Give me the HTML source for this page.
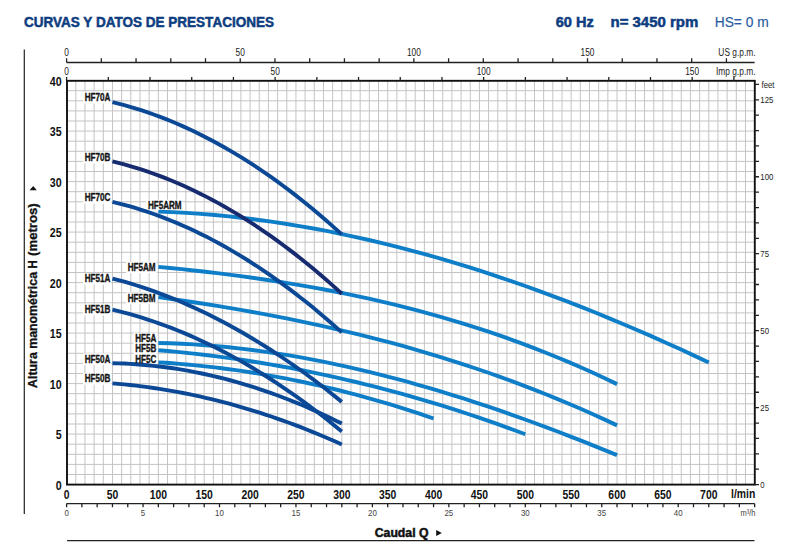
<!DOCTYPE html><html><head><meta charset="utf-8"><style>html,body{margin:0;padding:0;background:#fff;}svg{display:block;}text{font-family:"Liberation Sans",sans-serif;}</style></head><body>
<svg width="800" height="548" viewBox="0 0 800 548">
<rect width="800" height="548" fill="#fff"/>
<text x="24" y="27" font-size="14" font-weight="bold" fill="#0d3d80" stroke="#0d3d80" stroke-width="0.5" textLength="250" lengthAdjust="spacingAndGlyphs">CURVAS Y DATOS DE PRESTACIONES</text>
<text x="555.7" y="27.1" font-size="14" font-weight="bold" fill="#0d3d80" stroke="#0d3d80" stroke-width="0.5" textLength="38" lengthAdjust="spacingAndGlyphs">60 Hz</text>
<text x="610.5" y="27.1" font-size="14" font-weight="bold" fill="#0d3d80" stroke="#0d3d80" stroke-width="0.5" textLength="87.7" lengthAdjust="spacingAndGlyphs">n= 3450 rpm</text>
<text x="714.7" y="27.1" font-size="14" fill="#285a9f" stroke="#285a9f" stroke-width="0.15" textLength="54" lengthAdjust="spacingAndGlyphs">HS= 0 m</text>
<path d="M75.77 81V484M84.95 81V484M94.12 81V484M103.30 81V484M112.47 81V484M121.64 81V484M130.82 81V484M139.99 81V484M149.17 81V484M158.34 81V484M167.51 81V484M176.69 81V484M185.86 81V484M195.04 81V484M204.21 81V484M213.38 81V484M222.56 81V484M231.73 81V484M240.91 81V484M250.08 81V484M259.25 81V484M268.43 81V484M277.60 81V484M286.78 81V484M295.95 81V484M305.12 81V484M314.30 81V484M323.47 81V484M332.65 81V484M341.82 81V484M350.99 81V484M360.17 81V484M369.34 81V484M378.52 81V484M387.69 81V484M396.86 81V484M406.04 81V484M415.21 81V484M424.39 81V484M433.56 81V484M442.73 81V484M451.91 81V484M461.08 81V484M470.26 81V484M479.43 81V484M488.60 81V484M497.78 81V484M506.95 81V484M516.13 81V484M525.30 81V484M534.47 81V484M543.65 81V484M552.82 81V484M562.00 81V484M571.17 81V484M580.34 81V484M589.52 81V484M598.69 81V484M607.87 81V484M617.04 81V484M626.21 81V484M635.39 81V484M644.56 81V484M653.74 81V484M662.91 81V484M672.08 81V484M681.26 81V484M690.43 81V484M699.61 81V484M708.78 81V484M717.95 81V484M727.13 81V484M736.30 81V484M745.48 81V484M67.5 474.50H754M67.5 464.40H754M67.5 454.30H754M67.5 444.20H754M67.5 434.10H754M67.5 424.00H754M67.5 413.90H754M67.5 403.80H754M67.5 393.70H754M67.5 383.60H754M67.5 373.50H754M67.5 363.40H754M67.5 353.30H754M67.5 343.20H754M67.5 333.10H754M67.5 323.00H754M67.5 312.90H754M67.5 302.80H754M67.5 292.70H754M67.5 282.60H754M67.5 272.50H754M67.5 262.40H754M67.5 252.30H754M67.5 242.20H754M67.5 232.10H754M67.5 222.00H754M67.5 211.90H754M67.5 201.80H754M67.5 191.70H754M67.5 181.60H754M67.5 171.50H754M67.5 161.40H754M67.5 151.30H754M67.5 141.20H754M67.5 131.10H754M67.5 121.00H754M67.5 110.90H754M67.5 100.80H754M67.5 90.70H754" stroke="#c4c4c4" stroke-width="1" fill="none"/>
<rect x="82.99" y="91.80" width="28.26" height="11.60" fill="#fff"/>
<rect x="82.99" y="151.80" width="28.26" height="11.60" fill="#fff"/>
<rect x="82.99" y="192.05" width="28.26" height="11.60" fill="#fff"/>
<rect x="82.99" y="273.05" width="28.26" height="11.60" fill="#fff"/>
<rect x="82.99" y="303.80" width="28.26" height="11.60" fill="#fff"/>
<rect x="82.99" y="353.30" width="28.26" height="11.60" fill="#fff"/>
<rect x="82.99" y="373.05" width="28.26" height="11.60" fill="#fff"/>
<rect x="146.25" y="199.70" width="36.35" height="11.60" fill="#fff"/>
<rect x="126.10" y="261.60" width="30.50" height="11.60" fill="#fff"/>
<rect x="126.10" y="292.55" width="30.50" height="11.60" fill="#fff"/>
<rect x="133.55" y="333.00" width="23.75" height="11.60" fill="#fff"/>
<rect x="133.55" y="343.20" width="23.75" height="11.60" fill="#fff"/>
<rect x="133.55" y="354.10" width="23.75" height="11.60" fill="#fff"/>
<polyline points="158.34,211.59 172.45,212.15 186.57,212.92 200.68,213.89 214.80,215.05 228.91,216.41 243.02,217.96 257.14,219.71 271.25,221.64 285.36,223.76 299.48,226.06 313.59,228.54 327.71,231.20 341.82,234.04 355.93,237.06 370.05,240.24 384.16,243.60 398.28,247.12 412.39,250.81 426.50,254.67 440.62,258.68 454.73,262.85 468.84,267.18 482.96,271.67 497.07,276.30 511.19,281.09 525.30,286.02 539.41,291.10 553.53,296.32 567.64,301.68 581.76,307.17 595.87,312.81 609.98,318.58 624.10,324.48 638.21,330.51 652.32,336.66 666.44,342.94 680.55,349.34 694.67,355.86 708.78,362.50" fill="none" stroke="#0e7ec8" stroke-width="3.90"/>
<polyline points="158.34,266.86 170.10,267.99 181.86,269.18 193.62,270.44 205.39,271.76 217.15,273.15 228.91,274.61 240.67,276.15 252.43,277.76 264.19,279.45 275.96,281.23 287.72,283.10 299.48,285.06 311.24,287.12 323.00,289.27 334.76,291.52 346.52,293.87 358.29,296.34 370.05,298.91 381.81,301.60 393.57,304.40 405.33,307.32 417.09,310.37 428.86,313.54 440.62,316.84 452.38,320.28 464.14,323.85 475.90,327.56 487.66,331.42 499.42,335.42 511.19,339.56 522.95,343.87 534.71,348.32 546.47,352.94 558.23,357.71 569.99,362.65 581.76,367.76 593.52,373.04 605.28,378.50 617.04,384.13" fill="none" stroke="#0e7ec8" stroke-width="3.90"/>
<polyline points="158.34,297.19 170.10,298.82 181.86,300.50 193.62,302.24 205.39,304.05 217.15,305.92 228.91,307.86 240.67,309.87 252.43,311.96 264.19,314.11 275.96,316.35 287.72,318.67 299.48,321.07 311.24,323.55 323.00,326.12 334.76,328.78 346.52,331.53 358.29,334.37 370.05,337.31 381.81,340.35 393.57,343.49 405.33,346.73 417.09,350.08 428.86,353.53 440.62,357.10 452.38,360.78 464.14,364.57 475.90,368.48 487.66,372.51 499.42,376.66 511.19,380.93 522.95,385.33 534.71,389.86 546.47,394.52 558.23,399.32 569.99,404.25 581.76,409.31 593.52,414.52 605.28,419.87 617.04,425.37" fill="none" stroke="#0e7ec8" stroke-width="3.90"/>
<polyline points="158.34,342.96 170.10,343.27 181.86,343.75 193.62,344.39 205.39,345.20 217.15,346.17 228.91,347.29 240.67,348.57 252.43,350.00 264.19,351.58 275.96,353.31 287.72,355.19 299.48,357.20 311.24,359.35 323.00,361.64 334.76,364.06 346.52,366.62 358.29,369.30 370.05,372.10 381.81,375.03 393.57,378.08 405.33,381.24 417.09,384.52 428.86,387.91 440.62,391.41 452.38,395.02 464.14,398.73 475.90,402.54 487.66,406.45 499.42,410.45 511.19,414.55 522.95,418.73 534.71,423.00 546.47,427.36 558.23,431.80 569.99,436.32 581.76,440.91 593.52,445.58 605.28,450.32 617.04,455.12" fill="none" stroke="#0e7ec8" stroke-width="3.90"/>
<polyline points="158.34,350.22 167.75,351.02 177.16,351.90 186.57,352.84 195.98,353.86 205.39,354.95 214.80,356.11 224.20,357.34 233.61,358.64 243.02,360.01 252.43,361.45 261.84,362.97 271.25,364.55 280.66,366.21 290.07,367.94 299.48,369.74 308.89,371.61 318.30,373.55 327.71,375.56 337.12,377.64 346.52,379.80 355.93,382.02 365.34,384.32 374.75,386.68 384.16,389.12 393.57,391.63 402.98,394.21 412.39,396.86 421.80,399.59 431.21,402.38 440.62,405.24 450.03,408.18 459.44,411.19 468.84,414.26 478.25,417.41 487.66,420.63 497.07,423.92 506.48,427.29 515.89,430.72 525.30,434.22" fill="none" stroke="#0e7ec8" stroke-width="3.90"/>
<polyline points="158.34,362.34 165.40,362.79 172.45,363.29 179.51,363.85 186.57,364.46 193.62,365.12 200.68,365.83 207.74,366.59 214.80,367.41 221.85,368.28 228.91,369.20 235.97,370.17 243.02,371.19 250.08,372.27 257.14,373.40 264.19,374.58 271.25,375.81 278.31,377.09 285.36,378.43 292.42,379.82 299.48,381.26 306.54,382.75 313.59,384.30 320.65,385.90 327.71,387.54 334.76,389.25 341.82,391.00 348.88,392.80 355.93,394.66 362.99,396.57 370.05,398.53 377.10,400.55 384.16,402.61 391.22,404.73 398.28,406.90 405.33,409.12 412.39,411.39 419.45,413.72 426.50,416.10 433.56,418.53" fill="none" stroke="#0e7ec8" stroke-width="3.90"/>
<polyline points="112.47,102.22 118.35,103.67 124.23,105.22 130.11,106.87 135.99,108.63 141.87,110.48 147.75,112.44 153.64,114.50 159.52,116.67 165.40,118.93 171.28,121.30 177.16,123.77 183.04,126.34 188.92,129.02 194.80,131.79 200.68,134.67 206.56,137.65 212.44,140.74 218.32,143.92 224.20,147.21 230.09,150.60 235.97,154.09 241.85,157.69 247.73,161.38 253.61,165.18 259.49,169.08 265.37,173.09 271.25,177.19 277.13,181.40 283.01,185.71 288.89,190.12 294.77,194.64 300.65,199.25 306.54,203.97 312.42,208.79 318.30,213.72 324.18,218.74 330.06,223.87 335.94,229.10 341.82,234.43" fill="none" stroke="#0b4896" stroke-width="3.90"/>
<polyline points="112.47,161.47 118.35,162.92 124.23,164.46 130.11,166.11 135.99,167.86 141.87,169.72 147.75,171.67 153.64,173.73 159.52,175.89 165.40,178.16 171.28,180.52 177.16,182.99 183.04,185.56 188.92,188.24 194.80,191.01 200.68,193.89 206.56,196.87 212.44,199.96 218.32,203.14 224.20,206.43 230.09,209.82 235.97,213.32 241.85,216.91 247.73,220.61 253.61,224.41 259.49,228.32 265.37,232.32 271.25,236.43 277.13,240.64 283.01,244.96 288.89,249.37 294.77,253.89 300.65,258.51 306.54,263.24 312.42,268.06 318.30,272.99 324.18,278.02 330.06,283.15 335.94,288.39 341.82,293.73" fill="none" stroke="#172c70" stroke-width="3.90"/>
<polyline points="112.47,201.87 118.35,203.30 124.23,204.83 130.11,206.46 135.99,208.19 141.87,210.02 147.75,211.96 153.64,213.99 159.52,216.13 165.40,218.37 171.28,220.70 177.16,223.14 183.04,225.68 188.92,228.32 194.80,231.06 200.68,233.91 206.56,236.85 212.44,239.89 218.32,243.04 224.20,246.29 230.09,249.63 235.97,253.08 241.85,256.63 247.73,260.28 253.61,264.03 259.49,267.88 265.37,271.83 271.25,275.89 277.13,280.04 283.01,284.30 288.89,288.65 294.77,293.11 300.65,297.67 306.54,302.33 312.42,307.09 318.30,311.95 324.18,316.91 330.06,321.97 335.94,327.14 341.82,332.40" fill="none" stroke="#0b4896" stroke-width="3.90"/>
<polyline points="112.47,278.51 118.35,280.07 124.23,281.72 130.11,283.44 135.99,285.26 141.87,287.15 147.75,289.13 153.64,291.20 159.52,293.35 165.40,295.59 171.28,297.90 177.16,300.31 183.04,302.80 188.92,305.37 194.80,308.03 200.68,310.77 206.56,313.59 212.44,316.50 218.32,319.50 224.20,322.57 230.09,325.74 235.97,328.98 241.85,332.32 247.73,335.73 253.61,339.23 259.49,342.82 265.37,346.49 271.25,350.24 277.13,354.08 283.01,358.00 288.89,362.01 294.77,366.10 300.65,370.28 306.54,374.54 312.42,378.88 318.30,383.31 324.18,387.82 330.06,392.42 335.94,397.10 341.82,401.87" fill="none" stroke="#0b4896" stroke-width="3.90"/>
<polyline points="112.47,309.68 118.35,311.10 124.23,312.61 130.11,314.22 135.99,315.91 141.87,317.69 147.75,319.56 153.64,321.52 159.52,323.57 165.40,325.71 171.28,327.94 177.16,330.25 183.04,332.66 188.92,335.16 194.80,337.74 200.68,340.42 206.56,343.18 212.44,346.04 218.32,348.98 224.20,352.02 230.09,355.14 235.97,358.35 241.85,361.65 247.73,365.05 253.61,368.53 259.49,372.10 265.37,375.76 271.25,379.51 277.13,383.35 283.01,387.27 288.89,391.29 294.77,395.40 300.65,399.60 306.54,403.88 312.42,408.26 318.30,412.72 324.18,417.28 330.06,421.92 335.94,426.66 341.82,431.48" fill="none" stroke="#0b4896" stroke-width="3.90"/>
<polyline points="112.47,363.18 118.35,363.34 124.23,363.57 130.11,363.87 135.99,364.25 141.87,364.70 147.75,365.22 153.64,365.82 159.52,366.49 165.40,367.24 171.28,368.05 177.16,368.94 183.04,369.91 188.92,370.94 194.80,372.05 200.68,373.24 206.56,374.49 212.44,375.82 218.32,377.23 224.20,378.70 230.09,380.25 235.97,381.87 241.85,383.57 247.73,385.34 253.61,387.18 259.49,389.10 265.37,391.09 271.25,393.15 277.13,395.28 283.01,397.49 288.89,399.77 294.77,402.13 300.65,404.56 306.54,407.06 312.42,409.64 318.30,412.28 324.18,415.00 330.06,417.80 335.94,420.67 341.82,423.61" fill="none" stroke="#0b4896" stroke-width="3.90"/>
<polyline points="112.47,383.33 118.35,383.83 124.23,384.38 130.11,384.99 135.99,385.65 141.87,386.37 147.75,387.15 153.64,387.98 159.52,388.87 165.40,389.82 171.28,390.83 177.16,391.89 183.04,393.00 188.92,394.17 194.80,395.40 200.68,396.69 206.56,398.03 212.44,399.43 218.32,400.89 224.20,402.40 230.09,403.96 235.97,405.59 241.85,407.27 247.73,409.01 253.61,410.80 259.49,412.65 265.37,414.56 271.25,416.52 277.13,418.54 283.01,420.62 288.89,422.75 294.77,424.94 300.65,427.18 306.54,429.48 312.42,431.84 318.30,434.26 324.18,436.73 330.06,439.25 335.94,441.84 341.82,444.48" fill="none" stroke="#0b4896" stroke-width="3.90"/>
<rect x="67.0" y="80.8" width="687.80" height="403.80" fill="none" stroke="#111" stroke-width="1.9"/>
<path d="M66.60 62.5H754.65M66.60 58.2V62.5M101.33 58.2V62.5M136.05 58.2V62.5M170.78 58.2V62.5M205.51 58.2V62.5M240.24 58.2V62.5M274.96 58.2V62.5M309.69 58.2V62.5M344.42 58.2V62.5M379.15 58.2V62.5M413.87 58.2V62.5M448.60 58.2V62.5M483.33 58.2V62.5M518.06 58.2V62.5M552.78 58.2V62.5M587.51 58.2V62.5M622.24 58.2V62.5M656.96 58.2V62.5M691.69 58.2V62.5M726.42 58.2V62.5" stroke="#222" stroke-width="1.3" fill="none"/>
<path d="M66.60 77V80.8M108.31 77V80.8M150.01 77V80.8M191.72 77V80.8M233.42 77V80.8M275.13 77V80.8M316.83 77V80.8M358.54 77V80.8M400.25 77V80.8M441.95 77V80.8M483.66 77V80.8M525.36 77V80.8M567.07 77V80.8M608.78 77V80.8M650.48 77V80.8M692.19 77V80.8M733.89 77V80.8" stroke="#222" stroke-width="1.3" fill="none"/>
<text x="0" y="56" font-size="10.2" fill="#222" text-anchor="middle" transform="translate(66.60 0) scale(0.82 1)">0</text>
<text x="0" y="75" font-size="10.2" fill="#222" text-anchor="middle" transform="translate(66.60 0) scale(0.82 1)">0</text>
<text x="0" y="56" font-size="10.2" fill="#222" text-anchor="middle" transform="translate(240.24 0) scale(0.82 1)">50</text>
<text x="0" y="75" font-size="10.2" fill="#222" text-anchor="middle" transform="translate(275.13 0) scale(0.82 1)">50</text>
<text x="0" y="56" font-size="10.2" fill="#222" text-anchor="middle" transform="translate(413.87 0) scale(0.82 1)">100</text>
<text x="0" y="75" font-size="10.2" fill="#222" text-anchor="middle" transform="translate(483.66 0) scale(0.82 1)">100</text>
<text x="0" y="56" font-size="10.2" fill="#222" text-anchor="middle" transform="translate(587.51 0) scale(0.82 1)">150</text>
<text x="0" y="75" font-size="10.2" fill="#222" text-anchor="middle" transform="translate(692.19 0) scale(0.82 1)">150</text>
<text x="0" y="56" font-size="10.2" fill="#222" text-anchor="end" transform="translate(755.5 0) scale(0.82 1)">US g.p.m.</text>
<text x="0" y="75.2" font-size="10.2" fill="#222" text-anchor="end" transform="translate(755.5 0) scale(0.82 1)">Imp g.p.m.</text>
<path d="M754.6 484.60H759M754.6 469.21H759M754.6 453.82H759M754.6 438.42H759M754.6 423.03H759M754.6 407.64H759M754.6 392.25H759M754.6 376.85H759M754.6 361.46H759M754.6 346.07H759M754.6 330.68H759M754.6 315.28H759M754.6 299.89H759M754.6 284.50H759M754.6 269.11H759M754.6 253.71H759M754.6 238.32H759M754.6 222.93H759M754.6 207.54H759M754.6 192.14H759M754.6 176.75H759M754.6 161.36H759M754.6 145.97H759M754.6 130.57H759M754.6 115.18H759M754.6 99.79H759M754.6 84.40H759" stroke="#222" stroke-width="1.3" fill="none"/>
<text x="0" y="487.90" font-size="9.2" fill="#222" transform="translate(760.3 0) scale(0.85 1)">0</text>
<text x="0" y="410.94" font-size="9.2" fill="#222" transform="translate(760.3 0) scale(0.85 1)">25</text>
<text x="0" y="333.98" font-size="9.2" fill="#222" transform="translate(760.3 0) scale(0.85 1)">50</text>
<text x="0" y="257.01" font-size="9.2" fill="#222" transform="translate(760.3 0) scale(0.85 1)">75</text>
<text x="0" y="180.05" font-size="9.2" fill="#222" transform="translate(760.3 0) scale(0.85 1)">100</text>
<text x="0" y="103.09" font-size="9.2" fill="#222" transform="translate(760.3 0) scale(0.85 1)">125</text>
<text x="0" y="87.70" font-size="9.2" fill="#222" transform="translate(761.5 0) scale(0.85 1)">feet</text>
<text x="0" y="490.00" font-size="13.1" font-weight="bold" fill="#111" text-anchor="end" transform="translate(61.7 0) scale(0.815 1)">0</text>
<text x="0" y="439.50" font-size="13.1" font-weight="bold" fill="#111" text-anchor="end" transform="translate(61.7 0) scale(0.815 1)">5</text>
<text x="0" y="389.00" font-size="13.1" font-weight="bold" fill="#111" text-anchor="end" transform="translate(61.7 0) scale(0.815 1)">10</text>
<text x="0" y="338.50" font-size="13.1" font-weight="bold" fill="#111" text-anchor="end" transform="translate(61.7 0) scale(0.815 1)">15</text>
<text x="0" y="288.00" font-size="13.1" font-weight="bold" fill="#111" text-anchor="end" transform="translate(61.7 0) scale(0.815 1)">20</text>
<text x="0" y="237.50" font-size="13.1" font-weight="bold" fill="#111" text-anchor="end" transform="translate(61.7 0) scale(0.815 1)">25</text>
<text x="0" y="187.00" font-size="13.1" font-weight="bold" fill="#111" text-anchor="end" transform="translate(61.7 0) scale(0.815 1)">30</text>
<text x="0" y="136.50" font-size="13.1" font-weight="bold" fill="#111" text-anchor="end" transform="translate(61.7 0) scale(0.815 1)">35</text>
<text x="0" y="86.00" font-size="13.1" font-weight="bold" fill="#111" text-anchor="end" transform="translate(61.7 0) scale(0.815 1)">40</text>
<text x="0" y="498.6" font-size="13" font-weight="bold" fill="#111" text-anchor="middle" transform="translate(66.60 0) scale(0.8 1)">0</text>
<text x="0" y="498.6" font-size="13" font-weight="bold" fill="#111" text-anchor="middle" transform="translate(112.47 0) scale(0.8 1)">50</text>
<text x="0" y="498.6" font-size="13" font-weight="bold" fill="#111" text-anchor="middle" transform="translate(158.34 0) scale(0.8 1)">100</text>
<text x="0" y="498.6" font-size="13" font-weight="bold" fill="#111" text-anchor="middle" transform="translate(204.21 0) scale(0.8 1)">150</text>
<text x="0" y="498.6" font-size="13" font-weight="bold" fill="#111" text-anchor="middle" transform="translate(250.08 0) scale(0.8 1)">200</text>
<text x="0" y="498.6" font-size="13" font-weight="bold" fill="#111" text-anchor="middle" transform="translate(295.95 0) scale(0.8 1)">250</text>
<text x="0" y="498.6" font-size="13" font-weight="bold" fill="#111" text-anchor="middle" transform="translate(341.82 0) scale(0.8 1)">300</text>
<text x="0" y="498.6" font-size="13" font-weight="bold" fill="#111" text-anchor="middle" transform="translate(387.69 0) scale(0.8 1)">350</text>
<text x="0" y="498.6" font-size="13" font-weight="bold" fill="#111" text-anchor="middle" transform="translate(433.56 0) scale(0.8 1)">400</text>
<text x="0" y="498.6" font-size="13" font-weight="bold" fill="#111" text-anchor="middle" transform="translate(479.43 0) scale(0.8 1)">450</text>
<text x="0" y="498.6" font-size="13" font-weight="bold" fill="#111" text-anchor="middle" transform="translate(525.30 0) scale(0.8 1)">500</text>
<text x="0" y="498.6" font-size="13" font-weight="bold" fill="#111" text-anchor="middle" transform="translate(571.17 0) scale(0.8 1)">550</text>
<text x="0" y="498.6" font-size="13" font-weight="bold" fill="#111" text-anchor="middle" transform="translate(617.04 0) scale(0.8 1)">600</text>
<text x="0" y="498.6" font-size="13" font-weight="bold" fill="#111" text-anchor="middle" transform="translate(662.91 0) scale(0.8 1)">650</text>
<text x="0" y="498.6" font-size="13" font-weight="bold" fill="#111" text-anchor="middle" transform="translate(708.78 0) scale(0.8 1)">700</text>
<text x="0" y="498.3" font-size="13" font-weight="bold" fill="#111" text-anchor="end" transform="translate(755.3 0) scale(0.8 1)">l/min</text>
<path d="M66.60 503.6H754.65M66.60 503.6V507.3M81.89 503.6V507.3M97.18 503.6V507.3M112.47 503.6V507.3M127.76 503.6V507.3M143.05 503.6V507.3M158.34 503.6V507.3M173.63 503.6V507.3M188.92 503.6V507.3M204.21 503.6V507.3M219.50 503.6V507.3M234.79 503.6V507.3M250.08 503.6V507.3M265.37 503.6V507.3M280.66 503.6V507.3M295.95 503.6V507.3M311.24 503.6V507.3M326.53 503.6V507.3M341.82 503.6V507.3M357.11 503.6V507.3M372.40 503.6V507.3M387.69 503.6V507.3M402.98 503.6V507.3M418.27 503.6V507.3M433.56 503.6V507.3M448.85 503.6V507.3M464.14 503.6V507.3M479.43 503.6V507.3M494.72 503.6V507.3M510.01 503.6V507.3M525.30 503.6V507.3M540.59 503.6V507.3M555.88 503.6V507.3M571.17 503.6V507.3M586.46 503.6V507.3M601.75 503.6V507.3M617.04 503.6V507.3M632.33 503.6V507.3M647.62 503.6V507.3M662.91 503.6V507.3M678.20 503.6V507.3M693.49 503.6V507.3M708.78 503.6V507.3M724.07 503.6V507.3M739.36 503.6V507.3M754.65 503.6V507.3" stroke="#222" stroke-width="1.3" fill="none"/>
<text x="0" y="516.2" font-size="8.8" fill="#444" text-anchor="middle" transform="translate(66.60 0) scale(0.9 1)">0</text>
<text x="0" y="516.2" font-size="8.8" fill="#444" text-anchor="middle" transform="translate(143.05 0) scale(0.9 1)">5</text>
<text x="0" y="516.2" font-size="8.8" fill="#444" text-anchor="middle" transform="translate(219.50 0) scale(0.9 1)">10</text>
<text x="0" y="516.2" font-size="8.8" fill="#444" text-anchor="middle" transform="translate(295.95 0) scale(0.9 1)">15</text>
<text x="0" y="516.2" font-size="8.8" fill="#444" text-anchor="middle" transform="translate(372.40 0) scale(0.9 1)">20</text>
<text x="0" y="516.2" font-size="8.8" fill="#444" text-anchor="middle" transform="translate(448.85 0) scale(0.9 1)">25</text>
<text x="0" y="516.2" font-size="8.8" fill="#444" text-anchor="middle" transform="translate(525.30 0) scale(0.9 1)">30</text>
<text x="0" y="516.2" font-size="8.8" fill="#444" text-anchor="middle" transform="translate(601.75 0) scale(0.9 1)">35</text>
<text x="0" y="516.2" font-size="8.8" fill="#444" text-anchor="middle" transform="translate(678.20 0) scale(0.9 1)">40</text>
<text x="0" y="516.2" font-size="8.8" fill="#444" text-anchor="end" transform="translate(755.5 0) scale(0.85 1)">m³/h</text>
<path d="M24.3 49.4V514.1" stroke="#222" stroke-width="1.2"/>
<text x="0" y="0" font-size="12" font-weight="bold" fill="#111" stroke="#111" stroke-width="0.3" transform="translate(37.3 387.90) rotate(-90)" textLength="115.90" lengthAdjust="spacingAndGlyphs">Altura manométrica</text>
<text x="0" y="0" font-size="12" font-weight="bold" fill="#111" stroke="#111" stroke-width="0.3" transform="translate(37.3 268.60) rotate(-90)" textLength="8.20" lengthAdjust="spacingAndGlyphs">H</text>
<text x="0" y="0" font-size="12" font-weight="bold" fill="#111" stroke="#111" stroke-width="0.3" transform="translate(37.3 255.90) rotate(-90)" textLength="52.60" lengthAdjust="spacingAndGlyphs">(metros)</text>
<path d="M29.6 190.2L36.8 190.2L33.2 186.1Z" fill="#111"/>
<text x="374.75" y="536.5" font-size="12.3" font-weight="bold" fill="#111" stroke="#111" stroke-width="0.5" textLength="53.7" lengthAdjust="spacingAndGlyphs">Caudal Q</text>
<path d="M436.2 529.9L436.2 535.9L441.8 532.9Z" fill="#111"/>
<path d="M67.1 540.6H754.5" stroke="#222" stroke-width="1.2"/>
<text x="0" y="101.10" font-size="10.00" font-weight="bold" fill="#151515" stroke="#151515" stroke-width="0.35" text-anchor="end" transform="translate(110.25 0) scale(0.810 1)">HF70A</text>
<text x="0" y="161.10" font-size="10.00" font-weight="bold" fill="#151515" stroke="#151515" stroke-width="0.35" text-anchor="end" transform="translate(110.25 0) scale(0.810 1)">HF70B</text>
<text x="0" y="201.35" font-size="10.00" font-weight="bold" fill="#151515" stroke="#151515" stroke-width="0.35" text-anchor="end" transform="translate(110.25 0) scale(0.810 1)">HF70C</text>
<text x="0" y="282.35" font-size="10.00" font-weight="bold" fill="#151515" stroke="#151515" stroke-width="0.35" text-anchor="end" transform="translate(110.25 0) scale(0.810 1)">HF51A</text>
<text x="0" y="313.10" font-size="10.00" font-weight="bold" fill="#151515" stroke="#151515" stroke-width="0.35" text-anchor="end" transform="translate(110.25 0) scale(0.810 1)">HF51B</text>
<text x="0" y="362.60" font-size="10.00" font-weight="bold" fill="#151515" stroke="#151515" stroke-width="0.35" text-anchor="end" transform="translate(110.25 0) scale(0.810 1)">HF50A</text>
<text x="0" y="382.35" font-size="10.00" font-weight="bold" fill="#151515" stroke="#151515" stroke-width="0.35" text-anchor="end" transform="translate(110.25 0) scale(0.810 1)">HF50B</text>
<text x="0" y="209.00" font-size="10.00" font-weight="bold" fill="#151515" stroke="#151515" stroke-width="0.35" text-anchor="end" transform="translate(181.60 0) scale(0.810 1)">HF5ARM</text>
<text x="0" y="270.90" font-size="10.00" font-weight="bold" fill="#151515" stroke="#151515" stroke-width="0.35" text-anchor="end" transform="translate(155.60 0) scale(0.810 1)">HF5AM</text>
<text x="0" y="301.85" font-size="10.00" font-weight="bold" fill="#151515" stroke="#151515" stroke-width="0.35" text-anchor="end" transform="translate(155.60 0) scale(0.810 1)">HF5BM</text>
<text x="0" y="342.30" font-size="10.00" font-weight="bold" fill="#151515" stroke="#151515" stroke-width="0.35" text-anchor="end" transform="translate(156.30 0) scale(0.810 1)">HF5A</text>
<text x="0" y="352.50" font-size="10.00" font-weight="bold" fill="#151515" stroke="#151515" stroke-width="0.35" text-anchor="end" transform="translate(156.30 0) scale(0.810 1)">HF5B</text>
<text x="0" y="363.40" font-size="10.00" font-weight="bold" fill="#151515" stroke="#151515" stroke-width="0.35" text-anchor="end" transform="translate(156.30 0) scale(0.810 1)">HF5C</text>
</svg></body></html>
